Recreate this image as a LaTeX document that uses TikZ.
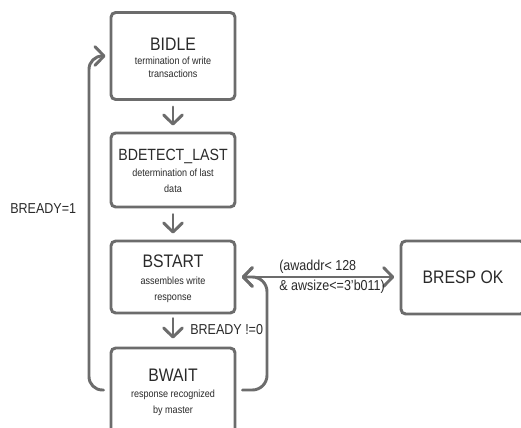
\documentclass[tikz,border=0pt]{standalone}
\usepackage{fontspec}
\setmainfont[FakeStretch=0.87]{Liberation Sans}
\usetikzlibrary{arrows.meta}
\definecolor{linegray}{HTML}{6C6C6C}
\definecolor{inkgray}{HTML}{2A2A2A}
\newcommand\fttl{\fontsize{13.6}{15}\selectfont}
\newcommand\fttlsmall{\fontsize{12.2}{14}\selectfont}
\newcommand\fsub{\fontsize{7.8}{11.7}\selectfont}
\newcommand\fsubtight{\fontsize{7.8}{10}\selectfont}
\newcommand\flab{\fontsize{10.8}{15}\selectfont}
\tikzset{
  barb/.tip={Straight Barb[length=6.8pt,width=14pt,line cap=round,line join=round]},
  state/.style={draw=linegray, line width=2.2pt, rounded corners=3.5pt,
    minimum width=93pt, inner sep=0pt},
  stext/.style={anchor=north, align=center, inner sep=0pt, text=inkgray, font=\fsub},
  flow/.style={draw=linegray, line width=2.2pt, line cap=round, line join=round, -barb},
  both/.style={flow, barb-barb},
  cond/.style={text=inkgray, font=\flab, inner sep=0pt}
}
\begin{document}
\begin{tikzpicture}[x=0.75pt,y=-0.75pt]
\useasboundingbox (0,0) rectangle (521,428);
\clip (0,0) rectangle (521,428);
\fill[white] (0,0) rectangle (521,428);

% state boxes
\node[state, minimum height=65.25pt] (idle) at (173,56) {};
\node[state, minimum height=55.5pt] (detect) at (173,170) {};
\node[state, minimum height=54pt] (start) at (173,277) {};
\node[state, minimum height=69pt] (wait) at (173,394) {};
\node[state, minimum height=54.75pt, text=inkgray, font=\fttl] (resp) at (463,277.5) {BRESP OK};

% state names and descriptions
\node[stext, font=\fsubtight] (idle-t) at (173,37.3)
  {{\fttl BIDLE}\\[0.7pt]termination of write\\transactions};
\node[stext] (detect-t) at (173,148.6)
  {{\fttlsmall BDETECT\_LAST}\\[0.6pt]determination of last\\data};
\node[stext] (start-t) at (173,255)
  {{\fttl BSTART}\\[0.8pt]assembles write\\response};
\node[stext] (wait-t) at (173,368.4)
  {{\fttl BWAIT}\\[0.8pt]response recognized\\by master};

% corner points of the two loops
\coordinate (lb) at (89,390);
\coordinate (lt) at (89,56);
\coordinate (rb) at (267,390);
\coordinate (rt) at (267,277);

% forward transitions
\draw[flow, shorten <=4.5pt, shorten >=4.5pt] (idle) -- (detect);
\draw[flow, shorten <=4.5pt, shorten >=4.5pt] (detect) -- (start);
\draw[flow, shorten <=3pt, shorten >=6pt] (start) -- (wait);
\draw[both, shorten <=4pt, shorten >=4pt] (start.east) -- (resp.west |- start.east);

% return loops
\draw[flow, rounded corners=10pt, shorten <=4.5pt, shorten >=3pt]
  (wait.west |- lb) -- (lb) -- (lt) -- (idle.west |- lt);
\draw[flow, rounded corners=11pt, shorten <=4.5pt, shorten >=4pt]
  (wait.east |- rb) -- (rb) -- (rt) -- (start.east);

% conditions
\node[cond, anchor=west] (c1) at (10,209) {BREADY=1};
\node[cond, anchor=west] (c2) at (190,330) {BREADY !=0};
\node[cond, anchor=west, align=left] (c3) at (279,277) {(awaddr< 128\\\& awsize<=3'b011)};
\end{tikzpicture}
\end{document}
